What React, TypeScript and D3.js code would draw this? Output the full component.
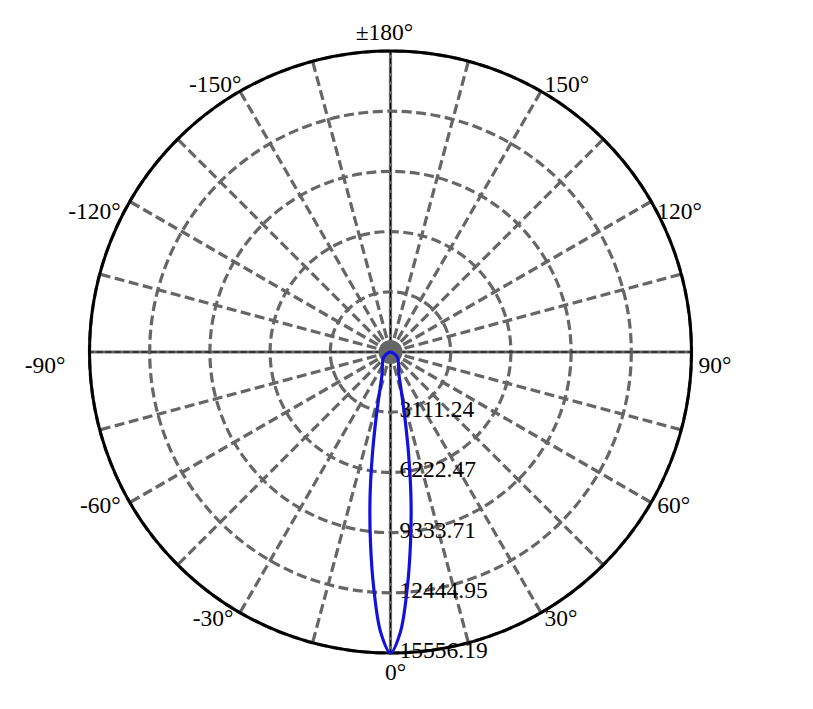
import React from 'react';
import * as d3 from 'd3';

// intensity (cd) vs polar angle, symmetric beam
const beamAngles = [0, 2, 4, 6, 8, 10, 12, 14, 16, 18, 20, 25, 30, 35, 40, 45, 50, 55, 60, 65, 70, 75, 80, 85, 90, 120, 150, 180];
const beamValues = [15556.19, 14500, 12300, 9900, 7600, 5400, 3700, 2600, 1950, 1550, 1300, 1000, 850, 720, 620, 560, 480, 380, 300, 200, 120, 60, 30, 10, 0, 0, 0, 0];

const ringTicks = [3111.24, 6222.47, 9333.71, 12444.95, 15556.19];
const spokeAngles = d3.range(0, 360, 15);
const angleLabels = [0, 30, 60, 90, 120, 150, 180, -150, -120, -90, -60, -30];

const W = 813;
const H = 709;
const cx = 390.5;
const cy = 352;
const R = 301;
const GRAY = '#666666';
const FONT = '"Liberation Serif", "Times New Roman", serif';

export default function App() {
    const r = d3.scaleLinear().domain([0, 15556.19]).range([0, R]);
    const rad = (deg: number) => (deg * Math.PI) / 180;
    // 0° points down, 90° right
    const px = (deg: number, rr: number) => cx + rr * Math.sin(rad(deg));
    const py = (deg: number, rr: number) => cy + rr * Math.cos(rad(deg));

    // build full closed curve from -180..180
    const pts: [number, number][] = [];
    for (let i = beamAngles.length - 1; i > 0; i--) pts.push([-beamAngles[i], beamValues[i]]);
    for (let i = 0; i < beamAngles.length; i++) pts.push([beamAngles[i], beamValues[i]]);

    const beamLine = d3.lineRadial<[number, number]>()
        .angle(d => Math.PI - rad(d[0]))
        .radius(d => r(d[1]))
        .curve(d3.curveCatmullRom.alpha(0.5));

    const labelPos = (deg: number) => {
        const rr = R + 7;
        let x = px(deg, rr);
        let y = py(deg, rr) + 7;
        const s = Math.sin(rad(deg));
        let anchor: 'start' | 'end' | 'middle' = s > 0.01 ? 'start' : s < -0.01 ? 'end' : 'middle';
        const a = Math.abs(deg);
        if (a === 90 || a === 120) y += 14;
        if (s < -0.01) x -= 3;
        if (deg === 0) { y += 13; x += 5; }
        if (a === 180) { y -= 11; x -= 6; }
        if (deg === -90) x -= 14;
        if (deg === -150) x += 8;
        return { x, y, anchor };
    };

    return (
        <svg width={W} height={H} style={{ position: 'absolute', left: 0, top: 0, background: '#fff' }}>
            <g fill="none">
                {ringTicks.map(t => (
                    <circle key={t} cx={cx} cy={cy} r={r(t)} stroke={GRAY} strokeWidth={3.2} strokeDasharray="10,4.5" />
                ))}
                {spokeAngles.map(a => {
                    const axis = a % 90 === 0;
                    return (
                        <g key={a}>
                            <line x1={cx} y1={cy} x2={px(a, R)} y2={py(a, R)} stroke={GRAY} strokeWidth={3.2}
                                strokeDasharray={axis ? undefined : '10,4.5'} />
                            {axis && (
                                <line x1={cx} y1={cy} x2={px(a, R)} y2={py(a, R)} stroke="#000" strokeWidth={1}
                                    strokeDasharray="6,3" />
                            )}
                        </g>
                    );
                })}
            </g>
            <circle cx={cx} cy={cy} r={12} fill={GRAY} />
            <circle cx={cx} cy={cy} r={R} fill="none" stroke="#000" strokeWidth={3} />

            {angleLabels.map(a => {
                const p = labelPos(a);
                return (
                    <text key={a} x={p.x} y={p.y} textAnchor={p.anchor} fontFamily={FONT} fontSize={23.5} fill="#000">
                        {a === 180 ? '±180°' : `${a}°`}
                    </text>
                );
            })}

            {ringTicks.map(t => (
                <text key={t} x={cx + 9} y={cy + r(t) + 5} fontFamily={FONT} fontSize={23.5} fill="#000">
                    {t.toFixed(2)}
                </text>
            ))}

            <path d={beamLine(pts) ?? ''} transform={`translate(${cx},${cy})`} fill="none"
                stroke="#1212dc" strokeWidth={3.2} strokeLinejoin="round" />
        </svg>
    );
}
